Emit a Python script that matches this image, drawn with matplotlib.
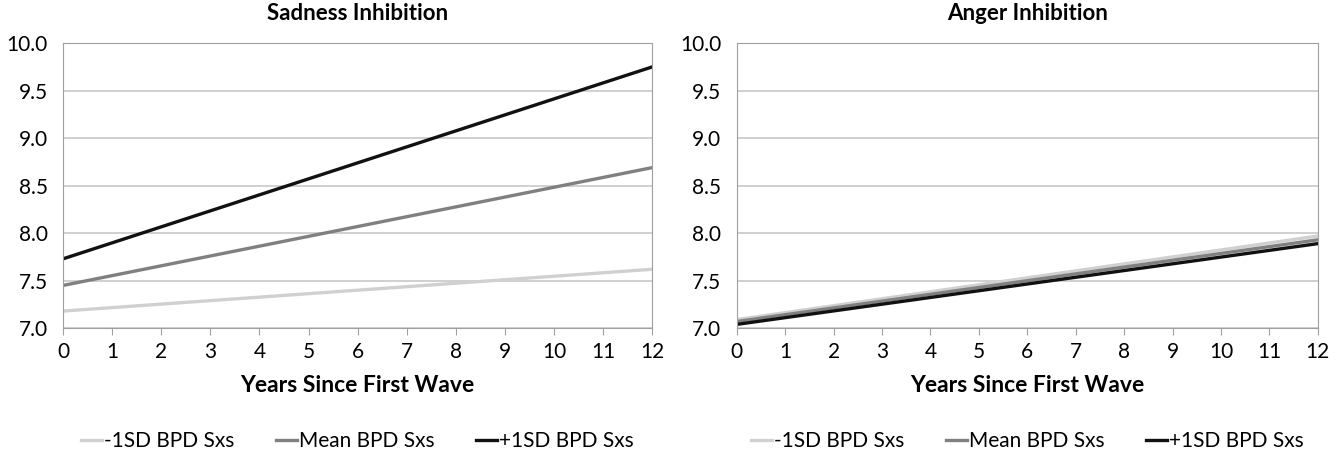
import matplotlib.pyplot as plt
import numpy as np

# data
# ---
years = [0, 12]
series_names = ["-1SD BPD Sxs", "Mean BPD Sxs", "+1SD BPD Sxs"]
series_colors = ["#d0d0d0", "#808080", "#111111"]

sadness_low = [7.18, 7.62]
sadness_mean = [7.45, 8.69]
sadness_high = [7.73, 9.75]

anger_low = [7.09, 7.97]
anger_mean = [7.07, 7.93]
anger_high = [7.04, 7.89]

panels = [
    ("Sadness Inhibition", [sadness_low, sadness_mean, sadness_high]),
    ("Anger Inhibition", [anger_low, anger_mean, anger_high]),
]

plt.rcParams['font.family'] = ['Lato', 'DejaVu Sans']

fig = plt.figure(figsize=(13.42, 4.59), dpi=100)
axes = [
    fig.add_axes([0.047, 0.285, 0.439, 0.621]),
    fig.add_axes([0.549, 0.285, 0.433, 0.621]),
]

for ax, (title, series) in zip(axes, panels):
    for vals, name, col in zip(series, series_names, series_colors):
        ax.plot(years, vals, color=col, linewidth=2.4, label=name)

    ax.set_xlim(0, 12)
    ax.set_ylim(7.0, 10.0)
    ax.set_xticks(range(0, 13))
    ax.set_yticks(np.arange(7.0, 10.01, 0.5))
    ax.set_yticklabels([f"{v:.1f}" for v in np.arange(7.0, 10.01, 0.5)])
    ax.grid(axis='y', color='#c8c8c8', linewidth=1.2)
    ax.set_axisbelow(True)
    for s in ax.spines.values():
        s.set_color('#a0a0a0')
    ax.tick_params(axis='y', length=0, labelsize=15, pad=11)
    ax.tick_params(axis='x', length=5, color='#a0a0a0', labelsize=15, pad=5)
    ax.set_title(title, fontsize=16, fontweight='bold', pad=17)
    ax.set_xlabel("Years Since First Wave", fontsize=16.5, fontweight='bold', labelpad=9)
    ax.legend(loc='upper center', bbox_to_anchor=(0.5, -0.295), ncol=3,
              frameon=False, fontsize=15, handlelength=1.0, handletextpad=0.1,
              columnspacing=2.0)

plt.savefig("out.png", dpi=100)
plt.close()
